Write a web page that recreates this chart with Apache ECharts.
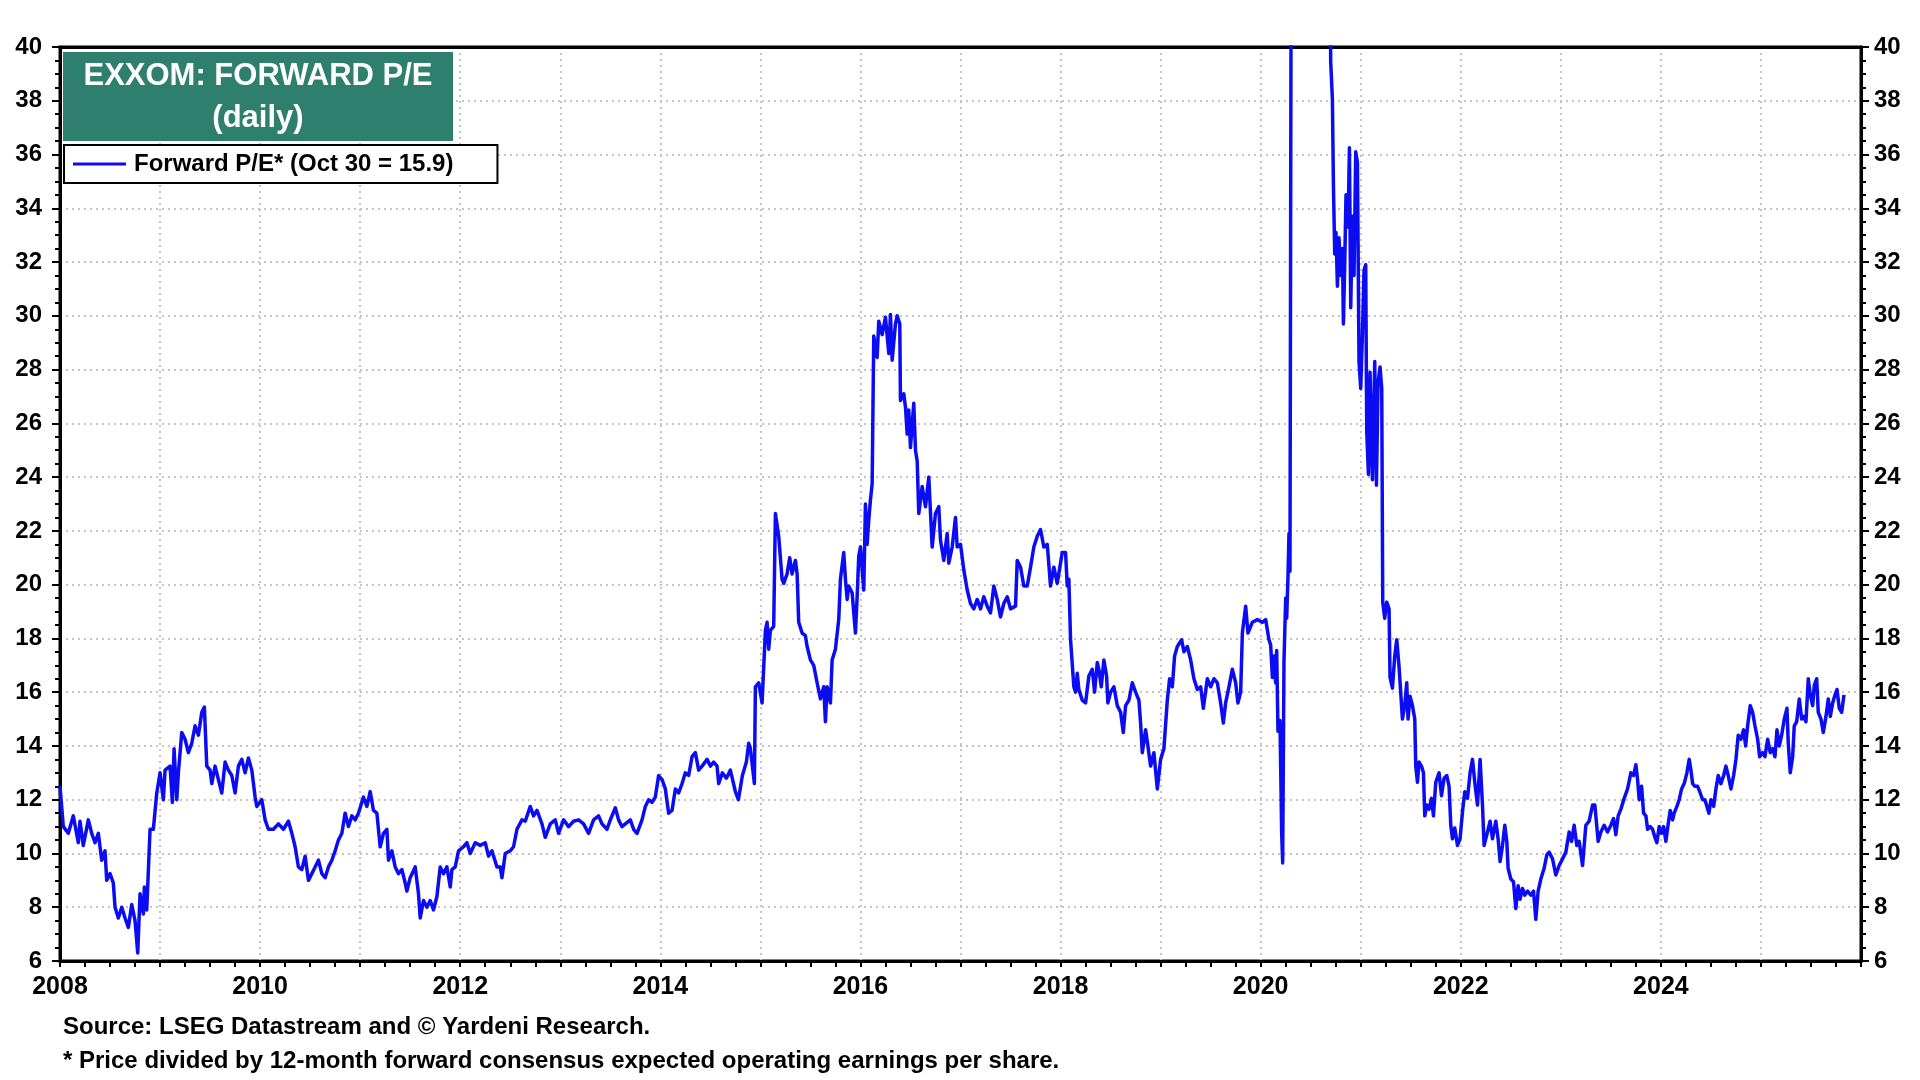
<!DOCTYPE html>
<html>
<head>
<meta charset="utf-8">
<title>EXXOM: Forward P/E</title>
<script src="https://cdn.jsdelivr.net/npm/echarts@6/dist/echarts.min.js"></script>
<style>
  html, body { margin: 0; padding: 0; background: #fff; }
  #chart { width: 1920px; height: 1080px; }
</style>
</head>
<body>
<div id="chart"></div>
<script>
// dates as decimal years (2008.5 = mid 2008)
var dates = [
  2008.000, 2008.033, 2008.083, 2008.133, 2008.183, 2008.200, 2008.233, 2008.283, 2008.317, 2008.350,
  2008.383, 2008.417, 2008.450, 2008.467, 2008.500, 2008.533, 2008.550, 2008.583, 2008.617, 2008.650,
  2008.683, 2008.717, 2008.750, 2008.777, 2008.800, 2008.833, 2008.843, 2008.867, 2008.900, 2008.933,
  2008.967,
  2009.000, 2009.033, 2009.050, 2009.100, 2009.123, 2009.140, 2009.167, 2009.183, 2009.217, 2009.250,
  2009.283, 2009.317, 2009.350, 2009.383, 2009.417, 2009.443, 2009.467, 2009.500, 2009.517, 2009.550,
  2009.583, 2009.617, 2009.650, 2009.683, 2009.717, 2009.750, 2009.783, 2009.817, 2009.850, 2009.883,
  2009.917, 2009.950, 2009.967,
  2010.017, 2010.050, 2010.083, 2010.133, 2010.183, 2010.233, 2010.283, 2010.317, 2010.350, 2010.383,
  2010.417, 2010.450, 2010.483, 2010.517, 2010.550, 2010.583, 2010.617, 2010.650, 2010.683, 2010.717,
  2010.750, 2010.783, 2010.817, 2010.850, 2010.883, 2010.917, 2010.950, 2010.983,
  2011.033, 2011.067, 2011.100, 2011.133, 2011.167, 2011.200, 2011.233, 2011.267, 2011.283, 2011.317,
  2011.350, 2011.383, 2011.417, 2011.450, 2011.467, 2011.500, 2011.550, 2011.583, 2011.600, 2011.633,
  2011.667, 2011.700, 2011.733, 2011.767, 2011.800, 2011.833, 2011.867, 2011.900, 2011.917, 2011.950,
  2011.983,
  2012.033, 2012.067, 2012.100, 2012.150, 2012.200, 2012.250, 2012.283, 2012.317, 2012.367, 2012.400,
  2012.417, 2012.450, 2012.500, 2012.533, 2012.567, 2012.617, 2012.650, 2012.700, 2012.733, 2012.767,
  2012.817, 2012.850, 2012.900, 2012.950, 2012.983,
  2013.033, 2013.083, 2013.133, 2013.183, 2013.233, 2013.283, 2013.333, 2013.383, 2013.417, 2013.467,
  2013.500, 2013.550, 2013.583, 2013.617, 2013.650, 2013.700, 2013.733, 2013.767, 2013.817, 2013.850,
  2013.883, 2013.917, 2013.950, 2013.983,
  2014.017, 2014.050, 2014.083, 2014.117, 2014.150, 2014.183, 2014.217, 2014.250, 2014.283, 2014.317,
  2014.350, 2014.383, 2014.417, 2014.467, 2014.500, 2014.533, 2014.567, 2014.583, 2014.620, 2014.660,
  2014.700, 2014.750, 2014.780, 2014.820, 2014.860, 2014.883, 2014.900, 2014.940, 2014.950, 2014.983,
  2015.017, 2015.050, 2015.067, 2015.083, 2015.100, 2015.133, 2015.150, 2015.183, 2015.217, 2015.233,
  2015.267, 2015.293, 2015.317, 2015.350, 2015.367, 2015.383, 2015.417, 2015.450, 2015.467, 2015.500,
  2015.533, 2015.567, 2015.600, 2015.633, 2015.650, 2015.667, 2015.700, 2015.717, 2015.750, 2015.783,
  2015.800, 2015.833, 2015.850, 2015.867, 2015.883, 2015.917, 2015.950, 2015.967, 2015.983,
  2016.000, 2016.033, 2016.050, 2016.067, 2016.083, 2016.100, 2016.117, 2016.133, 2016.167, 2016.183,
  2016.217, 2016.250, 2016.283, 2016.300, 2016.317, 2016.350, 2016.367, 2016.393, 2016.400, 2016.433,
  2016.450, 2016.467, 2016.483, 2016.500, 2016.533, 2016.550, 2016.567, 2016.583, 2016.617, 2016.650,
  2016.683, 2016.717, 2016.750, 2016.783, 2016.800, 2016.833, 2016.867, 2016.883, 2016.917, 2016.950,
  2016.967,
  2017.000, 2017.033, 2017.067, 2017.100, 2017.133, 2017.167, 2017.200, 2017.233, 2017.267, 2017.300,
  2017.333, 2017.367, 2017.400, 2017.433, 2017.467, 2017.500, 2017.550, 2017.567, 2017.600, 2017.633,
  2017.667, 2017.700, 2017.733, 2017.767, 2017.800, 2017.833, 2017.867, 2017.900, 2017.933, 2017.967,
  2018.017, 2018.050, 2018.067, 2018.083, 2018.100, 2018.133, 2018.150, 2018.167, 2018.183, 2018.217,
  2018.250, 2018.283, 2018.317, 2018.340, 2018.367, 2018.383, 2018.407, 2018.433, 2018.460, 2018.473,
  2018.500, 2018.533, 2018.567, 2018.600, 2018.627, 2018.650, 2018.683, 2018.717, 2018.750, 2018.783,
  2018.800, 2018.817, 2018.850, 2018.873, 2018.900, 2018.933, 2018.967,
  2019.000, 2019.033, 2019.067, 2019.090, 2019.117, 2019.140, 2019.167, 2019.210, 2019.233, 2019.267,
  2019.300, 2019.333, 2019.367, 2019.400, 2019.427, 2019.467, 2019.500, 2019.533, 2019.567, 2019.600,
  2019.627, 2019.650, 2019.683, 2019.717, 2019.750, 2019.773, 2019.800, 2019.817, 2019.850, 2019.873,
  2019.917, 2019.967,
  2020.017, 2020.050, 2020.083, 2020.100, 2020.117, 2020.133, 2020.150, 2020.160, 2020.173, 2020.193,
  2020.210, 2020.220, 2020.233, 2020.250, 2020.260, 2020.273, 2020.283, 2020.293, 2020.307, 2020.350,
  2020.450, 2020.550, 2020.650, 2020.690, 2020.700, 2020.717, 2020.727, 2020.740, 2020.753, 2020.767,
  2020.783, 2020.800, 2020.817, 2020.827, 2020.840, 2020.853, 2020.873, 2020.887, 2020.900, 2020.917,
  2020.933, 2020.950, 2020.967, 2020.983,
  2021.000, 2021.017, 2021.033, 2021.050, 2021.060, 2021.077, 2021.093, 2021.117, 2021.140, 2021.157,
  2021.173, 2021.193, 2021.210, 2021.220, 2021.240, 2021.260, 2021.283, 2021.293, 2021.317, 2021.340,
  2021.360, 2021.383, 2021.417, 2021.440, 2021.460, 2021.473, 2021.493, 2021.517, 2021.540, 2021.550,
  2021.567, 2021.583, 2021.607, 2021.627, 2021.640, 2021.660, 2021.683, 2021.707, 2021.727, 2021.750,
  2021.783, 2021.807, 2021.833, 2021.860, 2021.883, 2021.900, 2021.917, 2021.940, 2021.967, 2021.993,
  2022.017, 2022.040, 2022.067, 2022.093, 2022.117, 2022.140, 2022.167, 2022.193, 2022.217, 2022.233,
  2022.267, 2022.293, 2022.317, 2022.350, 2022.373, 2022.393, 2022.417, 2022.440, 2022.460, 2022.473,
  2022.500, 2022.527, 2022.550, 2022.573, 2022.593, 2022.617, 2022.640, 2022.667, 2022.700, 2022.727,
  2022.750, 2022.773, 2022.800, 2022.833, 2022.860, 2022.883, 2022.917, 2022.950, 2022.983,
  2023.017, 2023.050, 2023.083, 2023.107, 2023.133, 2023.160, 2023.183, 2023.217, 2023.250, 2023.283,
  2023.317, 2023.340, 2023.373, 2023.400, 2023.433, 2023.467, 2023.500, 2023.527, 2023.550, 2023.573,
  2023.600, 2023.633, 2023.667, 2023.700, 2023.727, 2023.750, 2023.767, 2023.783, 2023.807, 2023.827,
  2023.850, 2023.867, 2023.893, 2023.917, 2023.940, 2023.960, 2023.983,
  2024.007, 2024.027, 2024.050, 2024.073, 2024.093, 2024.117, 2024.133, 2024.160, 2024.183, 2024.207,
  2024.233, 2024.260, 2024.283, 2024.300, 2024.317, 2024.340, 2024.367, 2024.393, 2024.417, 2024.440,
  2024.460, 2024.480, 2024.500, 2024.527, 2024.550, 2024.573, 2024.600, 2024.627, 2024.650, 2024.673,
  2024.700, 2024.727, 2024.750, 2024.773, 2024.800, 2024.827, 2024.847, 2024.867, 2024.893, 2024.917,
  2024.940, 2024.967, 2024.987,
  2025.017, 2025.040, 2025.067, 2025.093, 2025.117, 2025.140, 2025.160, 2025.183, 2025.207, 2025.233,
  2025.260, 2025.273, 2025.293, 2025.317, 2025.333, 2025.357, 2025.383, 2025.407, 2025.427, 2025.450,
  2025.473, 2025.493, 2025.517, 2025.533, 2025.557, 2025.573, 2025.600, 2025.623, 2025.650, 2025.673,
  2025.693, 2025.717, 2025.740, 2025.760, 2025.783, 2025.807, 2025.830
];

// forward P/E, one value per date above
var forwardPE = [
  12.5, 11.0, 10.75, 11.4, 10.4, 11.2, 10.3, 11.25, 10.75, 10.4,
  10.75, 9.75, 10.1, 9.0, 9.25, 8.9, 8.0, 7.6, 8.0, 7.6,
  7.25, 8.1, 7.5, 6.3, 8.5, 7.75, 8.75, 7.9, 10.9, 10.9,
  12.25,
  13.0, 12.0, 13.1, 13.25, 11.9, 13.9, 12.0, 13.0, 14.5, 14.25,
  13.75, 14.1, 14.75, 14.4, 15.25, 15.45, 13.25, 13.1, 12.6, 13.25,
  12.75, 12.25, 13.4, 13.1, 12.9, 12.25, 13.25, 13.5, 13.0, 13.55,
  13.1, 12.1, 11.75,
  12.0, 11.25, 10.9, 10.9, 11.1, 10.9, 11.2, 10.75, 10.25, 9.5,
  9.4, 9.9, 9.0, 9.25, 9.5, 9.75, 9.25, 9.1, 9.5, 9.75,
  10.1, 10.5, 10.75, 11.5, 11.0, 11.4, 11.25, 11.5,
  12.1, 11.75, 12.3, 11.6, 11.5, 10.25, 10.75, 10.9, 9.75, 10.1,
  9.5, 9.25, 9.4, 8.9, 8.6, 9.1, 9.5, 8.5, 7.6, 8.25,
  8.0, 8.25, 7.9, 8.4, 9.5, 9.25, 9.5, 8.75, 9.4, 9.5,
  10.1,
  10.25, 10.4, 10.0, 10.4, 10.3, 10.4, 9.9, 10.1, 9.5, 9.5,
  9.1, 10.0, 10.1, 10.25, 10.9, 11.25, 11.2, 11.75, 11.4, 11.6,
  11.1, 10.6, 11.1, 11.25, 10.75,
  11.25, 11.0, 11.2, 11.25, 11.1, 10.75, 11.25, 11.4, 11.1, 10.9,
  11.25, 11.7, 11.25, 11.0, 11.1, 11.25, 10.9, 10.75, 11.25, 11.75,
  12.0, 11.9, 12.1, 12.9,
  12.75, 12.4, 11.5, 11.6, 12.4, 12.25, 12.6, 13.0, 12.9, 13.6,
  13.75, 13.1, 13.25, 13.5, 13.25, 13.4, 13.25, 12.6, 13.0, 12.8,
  13.1, 12.3, 12.0, 12.9, 13.4, 14.1, 13.9, 12.6, 16.2, 16.35,
  15.6, 18.3, 18.6, 17.6, 18.3, 18.45, 22.65, 21.8, 20.2, 20.05,
  20.4, 21.0, 20.4, 20.9, 20.4, 18.6, 18.2, 18.1, 17.7, 17.2,
  17.0, 16.35, 15.75, 16.2, 14.9, 16.2, 15.6, 17.2, 17.6, 18.7,
  20.2, 21.2, 20.2, 19.45, 19.95, 19.7, 18.2, 19.55, 21.05,
  21.4, 19.8, 23.0, 21.5, 22.4, 23.15, 23.75, 29.25, 28.45, 29.8,
  29.3, 29.95, 28.6, 30.05, 28.35, 29.7, 30.0, 29.7, 26.85, 27.1,
  26.6, 25.6, 26.5, 25.1, 26.75, 25.0, 24.6, 22.65, 23.65, 22.9,
  24.0, 21.4, 22.65, 22.9, 21.65, 20.9, 21.9, 20.8, 21.4, 22.5,
  21.4,
  21.5, 20.55, 19.8, 19.3, 19.1, 19.45, 19.1, 19.55, 19.2, 18.95,
  19.95, 19.45, 18.8, 19.3, 19.55, 19.1, 19.2, 20.9, 20.65, 19.95,
  19.95, 20.65, 21.4, 21.8, 22.05, 21.4, 21.5, 19.95, 20.65, 20.05,
  21.2, 21.2, 19.95, 20.2, 17.95, 16.2, 16.0, 16.7, 16.1, 15.7,
  15.6, 16.6, 16.85, 16.0, 17.1, 16.85, 16.2, 17.2, 16.6, 15.6,
  16.0, 16.2, 15.5, 15.25, 14.5, 15.5, 15.7, 16.35, 16.0, 15.7,
  14.85, 13.75, 14.6, 14.0, 13.25, 13.75, 12.4,
  13.5, 13.9, 15.7, 16.5, 16.2, 17.35, 17.7, 17.95, 17.5, 17.7,
  17.2, 16.5, 16.1, 16.2, 15.4, 16.5, 16.2, 16.5, 16.35, 15.6,
  14.85, 15.6, 16.2, 16.85, 16.35, 15.6, 16.0, 18.2, 19.2, 18.2,
  18.6, 18.7,
  18.6, 18.7, 17.95, 17.75, 16.55, 17.35, 16.35, 17.55, 14.55, 14.95,
  10.75, 9.65, 17.15, 19.5, 18.75, 20.3, 21.9, 20.5, 48.0, 80.0,
  95.0, 85.0, 60.0, 44.0, 39.45, 38.05, 34.9, 32.3, 33.1, 31.1,
  32.9, 31.5, 32.5, 29.7, 31.9, 34.5, 33.3, 36.25, 30.3, 33.7,
  31.5, 36.1, 35.7, 28.3,
  27.3, 29.3, 31.7, 31.9, 25.7, 24.1, 27.9, 23.9, 28.3, 23.7,
  27.5, 28.1, 27.3, 19.35, 18.75, 19.35, 19.1, 16.55, 16.15, 17.35,
  17.95, 16.95, 15.0, 15.5, 16.35, 15.0, 15.85, 15.5, 15.0, 13.25,
  12.65, 13.4, 13.25, 13.0, 11.4, 11.8, 11.65, 12.05, 11.4, 12.65,
  13.0, 12.15, 12.8, 12.9, 12.5, 11.05, 10.55, 10.95, 10.3, 10.55,
  11.55, 12.3, 12.05, 13.0, 13.5, 12.65, 11.8, 13.5, 11.8, 10.3,
  10.8, 11.2, 10.55, 11.2, 10.55, 9.7, 10.3, 11.05, 10.45, 9.45,
  9.05, 8.95, 7.95, 8.8, 8.3, 8.7, 8.45, 8.6, 8.45, 8.6,
  7.55, 8.6, 9.05, 9.45, 9.95, 10.05, 9.8, 9.2, 9.55,
  9.8, 10.05, 10.8, 10.45, 11.05, 10.3, 10.45, 9.55, 11.05, 11.2,
  11.8, 11.8, 10.45, 10.8, 11.05, 10.8, 11.05, 11.3, 10.7, 11.4,
  11.65, 12.05, 12.4, 13.0, 12.9, 13.3, 12.75, 12.0, 12.5, 11.5,
  11.4, 10.9, 11.0, 10.9, 10.6, 10.4, 11.0,
  10.75, 11.0, 10.45, 11.1, 11.6, 11.25, 11.5, 11.75, 12.0, 12.4,
  12.6, 13.0, 13.5, 13.1, 12.6, 12.5, 12.5, 12.25, 12.0, 12.0,
  11.75, 11.5, 12.0, 11.75, 12.4, 12.9, 12.6, 12.9, 13.25, 12.9,
  12.4, 12.9, 13.5, 14.4, 14.25, 14.6, 14.0, 14.75, 15.5, 15.25,
  14.75, 14.25, 13.6,
  13.75, 13.6, 14.25, 13.75, 13.9, 13.6, 14.6, 14.0, 14.4, 15.0,
  15.4, 14.1, 13.0, 13.6, 14.75, 14.9, 15.75, 15.0, 15.1, 14.9,
  16.5, 15.9, 15.5, 16.25, 16.5, 15.25, 15.0, 14.5, 15.1, 15.75,
  15.1, 15.6, 15.9, 16.1, 15.4, 15.25, 15.9
];

var titleLines = ['EXXOM: FORWARD P/E', '(daily)'];
var seriesName = 'Forward P/E* (Oct 30 = 15.9)';
var footnotes = [
  'Source: LSEG Datastream and \u00a9 Yardeni Research.',
  '* Price divided by 12-month forward consensus expected operating earnings per share.'
];

var lineData = dates.map(function (d, i) { return [d, forwardPE[i]]; });

var fontFam = 'Arial, "Liberation Sans", Helvetica, sans-serif';
var dotted = { color: '#c4c4c4', width: 2, type: [2, 4] };
var blue = '#0c0cf2';

var chart = echarts.init(document.getElementById('chart'));
var option = {
    backgroundColor: '#fff',
    animation: false,
    textStyle: { fontFamily: fontFam },
    grid: {
        left: 60,
        top: 47,
        width: 1801,
        height: 914,
        show: true,
        borderColor: '#000',
        borderWidth: 3,
        backgroundColor: 'transparent'
    },
    legend: {
        left: 64,
        top: 145,
        orient: 'horizontal',
        data: [seriesName],
        icon: 'rect',
        itemWidth: 53,
        itemHeight: 3,
        itemGap: 0,
        padding: [7, 44, 7, 9],
        backgroundColor: '#fff',
        borderColor: '#000',
        borderWidth: 2,
        borderRadius: 0,
        selectedMode: false,
        textStyle: {
            fontFamily: fontFam,
            fontWeight: 'bold',
            fontSize: 24,
            color: '#000',
            padding: [0, 0, 0, 3]
        }
    },
    xAxis: [{
        type: 'value',
        min: 2008,
        max: 2026,
        interval: 1,
        axisLine: { onZero: false, lineStyle: { color: '#000', width: 3 } },
        axisTick: { show: true, length: 6, lineStyle: { color: '#000', width: 2 } },
        minorTick: { show: true, splitNumber: 4, length: 6, lineStyle: { color: '#000', width: 2 } },
        splitLine: { show: true, lineStyle: dotted },
        axisLabel: {
            margin: 14,
            fontFamily: fontFam,
            fontWeight: 'bold',
            fontSize: 25,
            color: '#000',
            showMaxLabel: false,
            formatter: function (v) {
                return (v % 2 === 0 && v < 2026) ? String(v) : '';
            }
        }
    }, {
        // top frame line only
        type: 'value',
        position: 'top',
        min: 2008,
        max: 2026,
        axisLine: { show: true, onZero: false, lineStyle: { color: '#000', width: 3 } },
        axisTick: { show: false },
        axisLabel: { show: false },
        splitLine: { show: false }
    }],
    yAxis: [{
        type: 'value',
        position: 'left',
        min: 6,
        max: 40,
        interval: 2,
        axisLine: { show: true, lineStyle: { color: '#000', width: 3 } },
        axisTick: { show: true, length: 8, lineStyle: { color: '#000', width: 2 } },
        minorTick: { show: true, splitNumber: 4, length: 5, lineStyle: { color: '#000', width: 2 } },
        splitLine: { show: true, lineStyle: dotted },
        axisLabel: {
            margin: 18,
            fontFamily: fontFam,
            fontWeight: 'bold',
            fontSize: 24,
            color: '#000'
        }
    }, {
        type: 'value',
        position: 'right',
        min: 6,
        max: 40,
        interval: 2,
        axisLine: { show: true, lineStyle: { color: '#000', width: 3 } },
        axisTick: { show: true, length: 8, lineStyle: { color: '#000', width: 2 } },
        minorTick: { show: true, splitNumber: 4, length: 5, lineStyle: { color: '#000', width: 2 } },
        splitLine: { show: false },
        axisLabel: {
            margin: 13,
            fontFamily: fontFam,
            fontWeight: 'bold',
            fontSize: 24,
            color: '#000'
        }
    }],
    series: [{
        name: seriesName,
        type: 'line',
        xAxisIndex: 0,
        yAxisIndex: 0,
        data: lineData,
        showSymbol: false,
        clip: true,
        color: blue,
        lineStyle: { color: blue, width: 3.5, join: 'round' },
        itemStyle: { color: blue },
        z: 3
    }],
    graphic: [{
        type: 'rect',
        shape: { x: 63, y: 52, width: 390, height: 89 },
        style: { fill: '#2e7f6e' },
        z: 10
    }, {
        type: 'text',
        x: 258,
        y: 76,
        style: {
            text: titleLines[0],
            fill: '#fff',
            font: 'bold 31px ' + fontFam,
            textAlign: 'center',
            textVerticalAlign: 'middle'
        },
        z: 11
    }, {
        type: 'text',
        x: 258,
        y: 118,
        style: {
            text: titleLines[1],
            fill: '#fff',
            font: 'bold 31px ' + fontFam,
            textAlign: 'center',
            textVerticalAlign: 'middle'
        },
        z: 11
    }, {
        type: 'text',
        x: 63,
        y: 1027,
        style: {
            text: footnotes[0],
            fill: '#000',
            font: 'bold 24px ' + fontFam,
            textAlign: 'left',
            textVerticalAlign: 'middle'
        }
    }, {
        type: 'text',
        x: 63,
        y: 1061,
        style: {
            text: footnotes[1],
            fill: '#000',
            font: 'bold 24px ' + fontFam,
            textAlign: 'left',
            textVerticalAlign: 'middle'
        }
    }]
};
chart.setOption(option);
</script>
</body>
</html>
